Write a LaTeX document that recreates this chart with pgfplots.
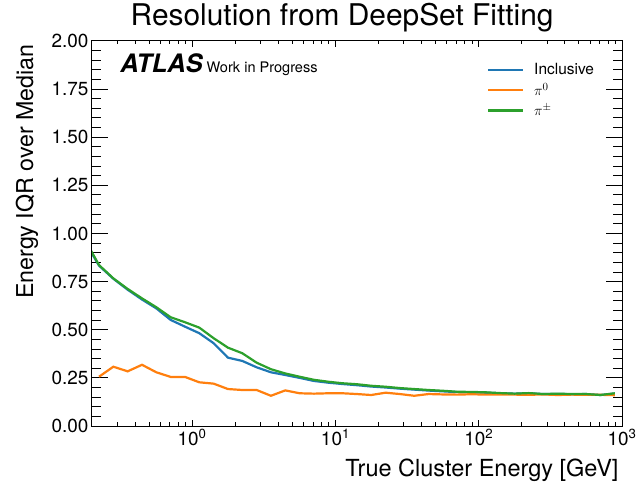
\documentclass[border=0pt]{standalone}
\usepackage{fontspec}
\setmainfont{TeX Gyre Heros}
\usepackage{pgfplots}
\usepackage{pgfplotstable}
\pgfplotsset{compat=1.18}
\definecolor{mplblue}{HTML}{1F77B4}
\definecolor{mplorange}{HTML}{FF7F0E}
\definecolor{mplgreen}{HTML}{2CA02C}

\pgfplotstableread{
E incl pi0 pich
0.1778 0.960 nan 0.970
0.2239 0.833 0.256 0.836
0.2818 0.765 0.308 0.767
0.3548 0.708 0.284 0.712
0.4467 0.657 0.318 0.663
0.5623 0.611 0.279 0.617
0.7079 0.551 0.255 0.565
0.8913 0.516 0.255 0.539
1.122 0.482 0.227 0.511
1.413 0.430 0.220 0.456
1.778 0.355 0.192 0.407
2.239 0.338 0.187 0.378
2.818 0.305 0.187 0.329
3.548 0.279 0.157 0.295
4.467 0.265 0.185 0.273
5.623 0.250 0.170 0.256
7.079 0.234 0.168 0.240
8.913 0.225 0.170 0.230
11.22 0.218 0.170 0.222
14.13 0.212 0.166 0.217
17.78 0.205 0.161 0.209
22.39 0.200 0.173 0.204
28.18 0.194 0.166 0.197
35.48 0.189 0.157 0.192
44.67 0.184 0.166 0.187
56.23 0.180 0.164 0.183
70.79 0.176 0.163 0.178
89.13 0.175 0.165 0.177
112.2 0.173 0.163 0.175
141.3 0.170 0.164 0.171
177.8 0.168 0.163 0.168
223.9 0.170 0.162 0.171
281.8 0.166 0.164 0.166
354.8 0.167 0.161 0.168
446.7 0.165 0.163 0.166
562.3 0.166 0.162 0.166
707.9 0.161 0.162 0.161
891.3 0.169 0.160 0.170
}\resdata

\begin{document}
\begin{tikzpicture}
\path[use as bounding box] (-92bp,-57bp) rectangle (545bp,426bp);
\begin{axis}[
  scale only axis, width=530bp, height=385bp,
  xmode=log, xmin=0.2, xmax=1000, ymin=0, ymax=2,
  xtick={1,10,100,1000},
  xticklabels={10\textsuperscript{0},10\textsuperscript{1},10\textsuperscript{2},10\textsuperscript{3}},
  minor xtick={},
  ytick={0,0.25,0.5,0.75,1,1.25,1.5,1.75,2},
  minor y tick num=4,
  /pgf/number format/assume math mode=true,
  yticklabel style={/pgf/number format/.cd, fixed, fixed zerofill, precision=2},
  tick label style={font=\fontsize{19}{22}\selectfont},
  tick align=inside, tick pos=both,
  major tick length=16bp, minor tick length=9bp,
  tick style={black, line width=1bp},
  xtick style={draw=none},
  axis line style={line width=1bp},
  unbounded coords=jump,
  title={Resolution from DeepSet Fitting},
  title style={font=\fontsize{30}{36}\selectfont, at={(axis description cs:0.472,1.026)}, anchor=base},
  xlabel={True Cluster Energy [GeV]},
  xlabel style={font=\fontsize{23.6}{28}\selectfont, at={(axis description cs:1,-0.1299)}, anchor=base east},
  ylabel={Energy IQR over Median},
  ylabel style={font=\fontsize{23.3}{28}\selectfont, at={(axis description cs:-0.1113,1)}, anchor=base east},
  legend cell align=left,
  legend style={draw=none, fill=none, at={(axis description cs:0.745,0.947)}, anchor=north west,
    font=\fontsize{15.5}{18}\selectfont, row sep=3bp, inner sep=0pt},
  legend image code/.code={\draw[#1,line width=2.2bp] (0bp,0bp) -- (35bp,0bp); \path (43bp,0bp);},
]
\addplot[mplblue, line width=2.2bp] table[x=E, y=incl] {\resdata};
\addlegendentry{Inclusive}
\addplot[mplorange, line width=2.2bp] table[x=E, y=pi0] {\resdata};
\addlegendentry{$\pi^0$}
\addplot[mplgreen, line width=2.2bp] table[x=E, y=pich] {\resdata};
\addlegendentry{$\pi^\pm$}
\node[anchor=base west, inner sep=0pt] at (rel axis cs:0.053,0.917)
  {\fontsize{25.5}{28}\selectfont\bfseries\itshape ATLAS\hspace{4bp}\fontsize{14.6}{17}\selectfont\mdseries\upshape Work in Progress};
\end{axis}
\begin{axis}[
  scale only axis, width=530bp, height=385bp,
  xmode=log, xmin=0.2, xmax=1000, ymin=0, ymax=2,
  xtick={1,10,100,1000},
  minor xtick={0.3,0.4,0.5,0.6,0.7,0.8,0.9,2,3,4,5,6,7,8,9,20,30,40,50,60,70,80,90,200,300,400,500,600,700,800,900},
  xticklabels={,,,},
  ytick=\empty,
  tick align=inside, tick pos=both,
  major tick length=6bp, minor tick length=3.5bp,
  tick style={black, line width=1bp},
  axis line style={line width=1bp},
]
\end{axis}
\end{tikzpicture}
\end{document}
